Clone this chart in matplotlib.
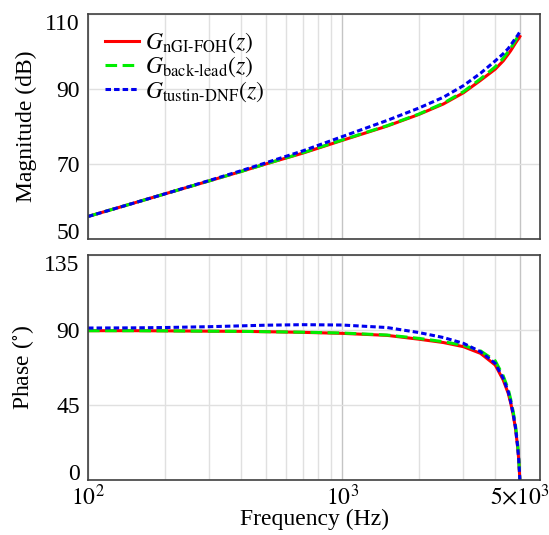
import matplotlib
matplotlib.use('Agg')
import matplotlib.pyplot as plt
from matplotlib.ticker import FixedLocator, FixedFormatter, NullFormatter

plt.rcParams['font.family'] = ['Liberation Serif', 'DejaVu Serif']
plt.rcParams['mathtext.fontset'] = 'stix'

# frequency points (Hz)
freq = [100, 150, 200, 300, 400, 500, 700, 1000, 1500, 2000, 2500, 3000,
        3500, 4000, 4300, 4500, 4600, 4700, 4800, 4900, 4950, 5000]

# magnitude (dB)
mag_foh = [56.0, 59.5, 62.0, 65.5, 68.0, 70.0, 72.9, 76.3, 80.1, 83.2, 86.0, 89.0,
           92.3, 95.3, 97.5, 99.3, 100.2, 101.2, 102.2, 103.1, 103.5, 104.0]
mag_lead = [56.0, 59.5, 62.0, 65.5, 68.0, 70.0, 73.0, 76.4, 80.2, 83.3, 86.2, 89.3,
            92.7, 95.9, 98.2, 100.0, 100.9, 101.9, 102.9, 103.9, 104.5, 105.0]
mag_dnf = [56.0, 59.5, 62.0, 65.6, 68.2, 70.3, 73.5, 77.3, 81.6, 84.9, 87.8, 90.9,
           94.2, 97.5, 99.4, 100.8, 101.7, 102.6, 103.5, 104.3, 104.8, 105.2]

# phase (deg)
ph_foh = [89.6, 89.6, 89.5, 89.3, 89.2, 89.0, 88.6, 88.0, 86.8, 84.5, 82.5, 80.0,
          76.0, 69.0, 60.0, 52.0, 46.3, 39.5, 31.5, 20.0, 12.0, 0.0]
ph_lead = [89.6, 89.6, 89.5, 89.3, 89.2, 89.0, 88.7, 88.2, 87.0, 85.0, 83.0, 80.8,
           77.5, 71.5, 62.5, 54.5, 48.5, 41.5, 33.5, 21.5, 13.0, 0.0]
ph_dnf = [91.2, 91.3, 91.5, 92.0, 92.5, 92.9, 93.2, 93.0, 91.5, 88.5, 85.5, 82.0,
          77.0, 70.0, 61.0, 53.0, 47.0, 40.0, 32.0, 20.0, 12.0, 0.0]

labels = [r'$G_{\mathrm{nGI\text{-}FOH}}(z)$',
          r'$G_{\mathrm{back\text{-}lead}}(z)$',
          r'$G_{\mathrm{tustin\text{-}DNF}}(z)$']

fig = plt.figure(figsize=(5.49, 5.35), dpi=100)
ax1 = fig.add_axes([0.1603, 0.5533, 0.8233, 0.4205])
ax2 = fig.add_axes([0.1603, 0.1028, 0.8233, 0.4205])

major = [100, 1000, 5000]
minor = [200, 300, 400, 500, 600, 700, 800, 900, 2000, 3000, 4000]

for ax, datas in ((ax1, (mag_foh, mag_lead, mag_dnf)), (ax2, (ph_foh, ph_lead, ph_dnf))):
    ax.plot(freq, datas[0], color='#ff0000', lw=2.2, ls='-', label=labels[0])
    ax.plot(freq, datas[1], color='#00ee00', lw=2.2, ls=(0, (3.8, 1.8)), label=labels[1])
    ax.plot(freq, datas[2], color='#0000ee', lw=2.2, ls=(0, (1.8, 1.0)), label=labels[2])
    ax.set_xscale('log')
    ax.set_xlim(100, 6000)
    ax.xaxis.set_major_locator(FixedLocator(major))
    ax.xaxis.set_minor_locator(FixedLocator(minor))
    ax.xaxis.set_minor_formatter(NullFormatter())
    ax.grid(True, which='major', axis='x', color='#c4c4c4', lw=1.0)
    ax.grid(True, which='minor', axis='x', color='#e0e0e0', lw=1.0)
    ax.grid(True, which='major', axis='y', color='#e0e0e0', lw=1.0)
    ax.tick_params(which='both', length=0, labelsize=17)
    ax.tick_params(axis='y', pad=6)
    ax.tick_params(axis='x', pad=3)
    for s in ax.spines.values():
        s.set_color('#404040')
        s.set_linewidth(1.2)
    ax.set_axisbelow(True)

ax1.set_ylim(50, 110)
ax1.set_yticks([50, 70, 90, 110])
ax1.xaxis.set_major_formatter(NullFormatter())
ax1.set_ylabel('Magnitude (dB)', fontsize=17, labelpad=6)
ax1.legend(loc='upper left', frameon=False, fontsize=17, handlelength=1.45,
           handletextpad=0.25, labelspacing=0.0, borderaxespad=0.3,
           borderpad=0.4)

ax2.set_ylim(0, 135)
ax2.set_yticks([0, 45, 90, 135])
ax2.xaxis.set_major_formatter(FixedFormatter([r'$10^2$', r'$10^3$', r'$5{\times}10^3$']))
ax2.set_ylabel(r'Phase ($^{\circ}$)', fontsize=17, labelpad=6)
ax2.set_xlabel('Frequency (Hz)', fontsize=17, labelpad=-1)

# end tick labels sit inside the axis range, as in the original
for ax in (ax1, ax2):
    ylabs = ax.get_yticklabels()
    ylabs[0].set_va('baseline')
    ylabs[-1].set_va('top')

fig.savefig('out.png', dpi=100)
